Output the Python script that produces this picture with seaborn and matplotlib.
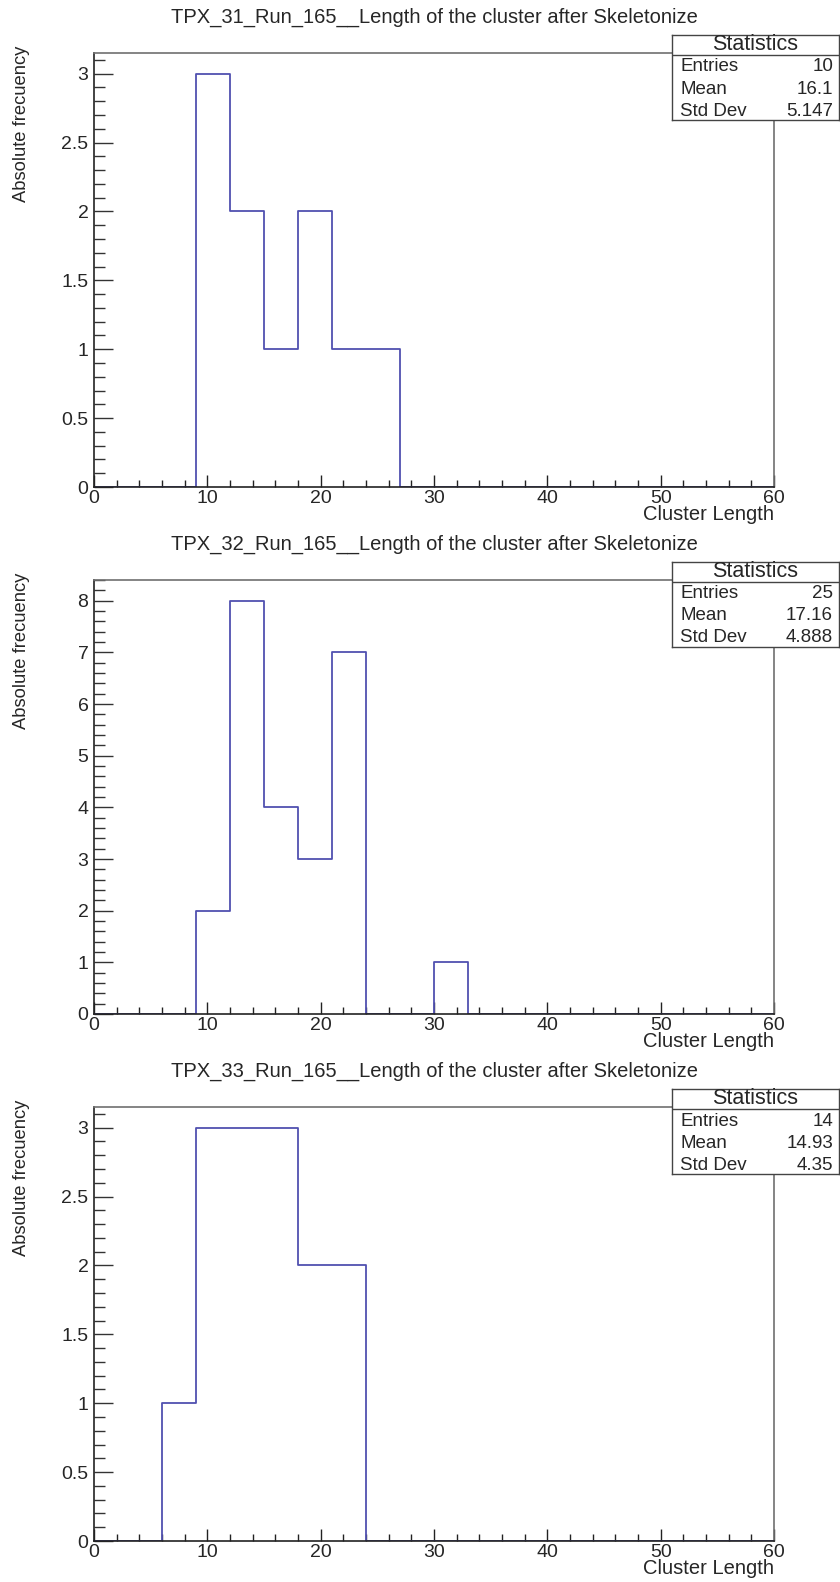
import numpy as np
import matplotlib
matplotlib.use('Agg')
import matplotlib.pyplot as plt
import seaborn as sns
from matplotlib.ticker import MultipleLocator, FuncFormatter

# bins are 3 wide from 0 to 60; only the filled bins are listed
bin_edges = list(range(0, 61, 3))

tpx31_left = [9, 12, 15, 18, 21, 24]
tpx31_counts = [3, 2, 1, 2, 1, 1]

tpx32_left = [9, 12, 15, 18, 21, 30]
tpx32_counts = [2, 8, 4, 3, 7, 1]

tpx33_left = [6, 9, 12, 15, 18, 21]
tpx33_counts = [1, 3, 3, 3, 2, 2]

titles = ['TPX_31_Run_165__Length of the cluster after Skeletonize',
          'TPX_32_Run_165__Length of the cluster after Skeletonize',
          'TPX_33_Run_165__Length of the cluster after Skeletonize']
stat_names = ['Entries', 'Mean', 'Std Dev']
stat_values = [['10', '16.1', '5.147'],
               ['25', '17.16', '4.888'],
               ['14', '14.93', '4.35']]

lefts = [tpx31_left, tpx32_left, tpx33_left]
counts = [tpx31_counts, tpx32_counts, tpx33_counts]

sns.set_style('white')
plt.rcParams['font.family'] = ['Liberation Sans', 'DejaVu Sans']

W, H = 840, 1582
fig = plt.figure(figsize=(W / 100, H / 100), dpi=100)
line_col = '#5050b0'


def rect(x0, y0, x1, y1):
    # pixel box (top-left origin) -> figure fraction
    return [x0 / W, 1 - y1 / H, (x1 - x0) / W, (y1 - y0) / H]


for i in range(3):
    off = 527 * i
    ax = fig.add_axes(rect(94, 53 + off, 774, 487 + off))

    x = np.array(lefts[i]) + 1.5
    sns.histplot(x=x, weights=counts[i], bins=bin_edges, element='step',
                 fill=False, color=line_col, linewidth=1.3, ax=ax)

    ax.set_xlim(0, 60)
    ax.set_ylim(0, 1.05 * max(counts[i]))

    if i == 1:
        ax.yaxis.set_major_locator(MultipleLocator(1))
        ax.yaxis.set_minor_locator(MultipleLocator(0.2))
    else:
        ax.yaxis.set_major_locator(MultipleLocator(0.5))
        ax.yaxis.set_minor_locator(MultipleLocator(0.1))
    ax.xaxis.set_major_locator(MultipleLocator(10))
    ax.xaxis.set_minor_locator(MultipleLocator(2))
    ax.yaxis.set_major_formatter(FuncFormatter(lambda v, p: f'{v:g}'))

    ax.tick_params(axis='y', which='major', direction='in', length=14, width=1,
                   pad=4, labelsize=14, color='#333333', right=False, left=True)
    ax.tick_params(axis='y', which='minor', direction='in', length=8, width=1,
                   color='#333333', right=False, left=True)
    ax.tick_params(axis='x', which='major', direction='in', length=9, width=1,
                   pad=2, labelsize=14, color='#222222', top=False, bottom=True)
    ax.tick_params(axis='x', which='minor', direction='in', length=5, width=1,
                   color='#222222', top=False, bottom=True)

    for s in ['left', 'bottom']:
        ax.spines[s].set_color('#222222')
        ax.spines[s].set_linewidth(1.2)
    for s in ['top', 'right']:
        ax.spines[s].set_color('#707070')
        ax.spines[s].set_linewidth(1.2)

    ax.set_xlabel('Cluster Length', fontsize=14.5, loc='right')
    ax.xaxis.set_label_coords(1.0, -0.042)
    ax.set_ylabel('Absolute frecuency', fontsize=13.2, loc='top')
    ax.yaxis.set_label_coords(-0.094, 1.018)

    fig.text(434 / W, 1 - (17 + off) / H, titles[i], ha='center', va='center',
             fontsize=14.5)

    # statistics box
    sb = fig.add_axes(rect(672, 35 + off, 839, 120 + off))
    sb.set_xlim(0, 167)
    sb.set_ylim(85, 0)
    sb.set_xticks([])
    sb.set_yticks([])
    for s in sb.spines.values():
        s.set_color('#444444')
        s.set_linewidth(1.0)
    sb.axhline(20, color='#444444', lw=1.0)
    sb.text(83.5, 10, 'Statistics', ha='center', va='center', fontsize=15.5)
    for k in range(3):
        yy = 32 + 22 * k
        sb.text(8, yy, stat_names[k], ha='left', va='center', fontsize=13.5)
        sb.text(161, yy, stat_values[i][k], ha='right', va='center', fontsize=13.5)

fig.savefig('out.png', dpi=100)
